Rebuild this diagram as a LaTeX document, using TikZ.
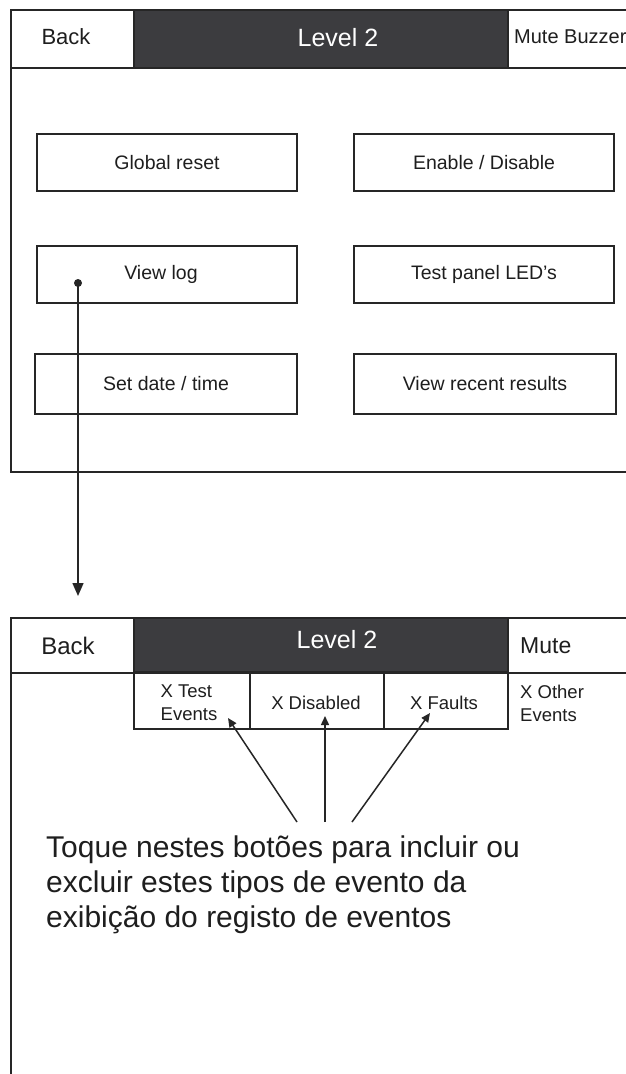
\documentclass[tikz,border=0pt]{standalone}
\usepackage{fontspec}
\setmainfont{Liberation Sans}
\usetikzlibrary{arrows.meta}
\definecolor{framec}{RGB}{38,38,38}
\definecolor{hdrc}{RGB}{60,60,63}
\definecolor{txtc}{RGB}{30,30,30}
\tikzset{
  frameline/.style={draw=framec,line width=2pt},
  cell/.style={frameline,rectangle,inner sep=0pt,outer sep=0pt},
  darkcell/.style={cell,fill=hdrc},
  btn/.style={cell,line width=1.8pt,minimum width=260,minimum height=57,
    font=\fontsize{19.5}{23}\selectfont,text=txtc},
  hdrtxt/.style={inner sep=0pt,font=\fontsize{22}{26}\selectfont,text=txtc},
  titletxt/.style={inner sep=0pt,font=\fontsize{25}{29}\selectfont,text=white},
  smalltxt/.style={inner sep=0pt,align=left,font=\fontsize{18.5}{23}\selectfont,text=txtc},
  conn/.style={draw=framec,line width=1.5pt},
}
\begin{document}
\begin{tikzpicture}[x=1pt,y=-1pt]
\useasboundingbox (0,0) rectangle (626,1074);
\clip (0,0) rectangle (626,1074);
\fill[white] (0,0) rectangle (626,1074);

% ---------- top screen ----------
\draw[frameline] (640,472) -- (11,472) -- (11,10) -- (640,10);
\node[cell,minimum width=123,minimum height=58] (back1) at (72.5,39) {};
\node[hdrtxt] (back1t) at (66,37) {Back};
\node[darkcell,minimum width=374,minimum height=58] (title1) at (321,39) {};
\node[titletxt] (title1t) at (338,37.5) {Level 2};
\node[cell,minimum width=132,minimum height=58,anchor=west] (mute1) at (508,39) {};
\node[hdrtxt,anchor=west,font=\fontsize{20}{24}\selectfont] (mute1t) at (514,37) {Mute Buzzer};

\node[btn] (gr) at (167,162.5) {Global reset};
\node[btn] (ed) at (484,162.5) {Enable / Disable};
\node[btn] (vl) at (167,274.5) {\hspace*{-12pt}View log};
\node[btn] (tp) at (484,274.5) {Test panel LED's};
\node[btn,minimum width=262,minimum height=60] (sd) at (166,384) {Set date / time};
\node[btn,minimum width=262,minimum height=60] (vr) at (485,384) {View recent results};

% connector from View log to the second screen
\coordinate (dot) at (78,283);
\coordinate (tip) at (78,596);
\fill[framec] (dot) circle (4);
\draw[conn,-{Triangle[length=13,width=11]}] (dot) -- (tip);

% ---------- bottom screen ----------
\draw[frameline] (640,618) -- (11,618) -- (11,1080);
\node[cell,minimum width=123,minimum height=55] (back2) at (72.5,645) {};
\node[hdrtxt,font=\fontsize{24}{28}\selectfont] (back2t) at (68,646) {Back};
\node[darkcell,minimum width=374,minimum height=55] (title2) at (321,645) {};
\node[titletxt] (title2t) at (337,640) {Level 2};
\node[cell,minimum width=132,minimum height=55,anchor=west] (mute2) at (508,645) {};
\node[hdrtxt,anchor=west,font=\fontsize{23}{27}\selectfont] (mute2t) at (520,646) {Mute};

\node[cell,minimum width=116,minimum height=57] (c1) at (192,700.5) {};
\node[smalltxt] (c1t) at (189,703) {X Test\\Events};
\node[cell,minimum width=134,minimum height=57] (c2) at (317,700.5) {};
\node[smalltxt] (c2t) at (316,703) {X Disabled};
\node[cell,minimum width=124,minimum height=57] (c3) at (446,700.5) {};
\node[smalltxt] (c3t) at (444,703) {X Faults};
\node[smalltxt,anchor=west] (c4t) at (520,703) {X Other\\Events};

% arrows to filter buttons
\coordinate (s1) at (297,822);
\coordinate (s2) at (325,822);
\coordinate (s3) at (352,822);
\coordinate (t1) at (228,718);
\coordinate (t2) at (325,716);
\coordinate (t3) at (430,713);
\draw[conn,-{Triangle[length=9,width=8]}] (s1) -- (t1);
\draw[conn,-{Triangle[length=9,width=8]}] (s2) -- (t2);
\draw[conn,-{Triangle[length=9,width=8]}] (s3) -- (t3);

\node[anchor=north west,align=left,inner sep=0pt,text=txtc,
  font=\fontsize{30}{35}\selectfont] (note) at (46,836)
  {Toque nestes botões para incluir ou\\excluir estes tipos de evento da\\exibição do registo de eventos};
\end{tikzpicture}
\end{document}
